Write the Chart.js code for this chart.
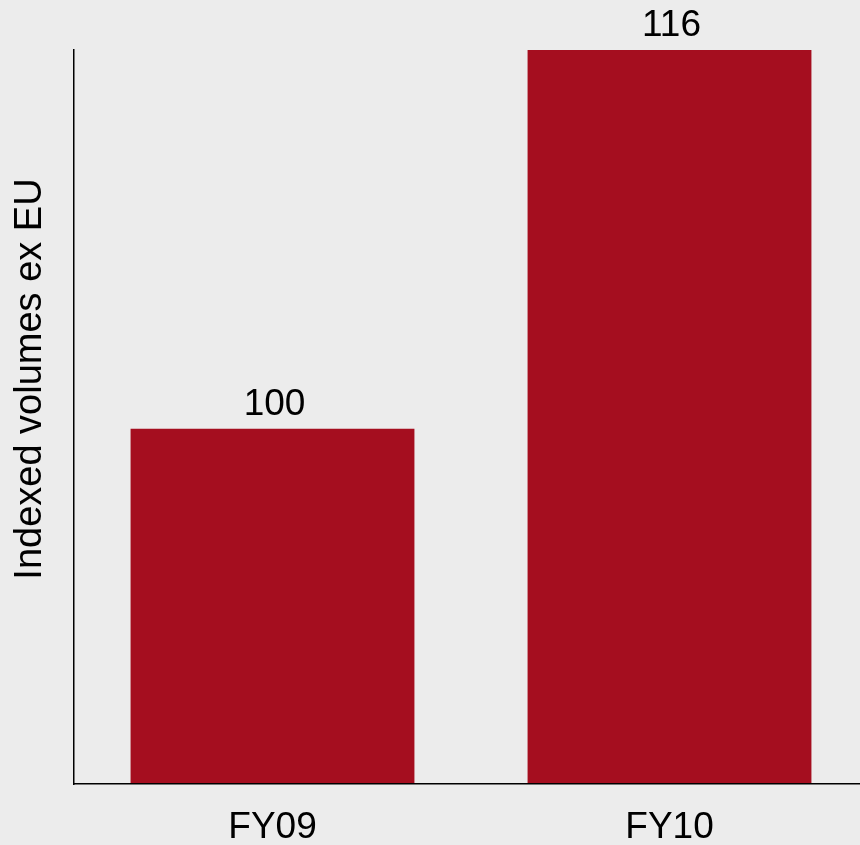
<!DOCTYPE html>
<html>
<head>
<meta charset="utf-8">
<script src="https://cdn.jsdelivr.net/npm/chart.js@4/dist/chart.umd.min.js"></script>
<style>
html,body{margin:0;padding:0;background:#ececec;overflow:hidden;width:860px;height:845px;}
canvas{display:block;}
</style>
</head>
<body>
<canvas id="c" width="868" height="845"></canvas>
<script>
const categories = ["FY09", "FY10"];
const volumes = [100, 116];
const valueLabels = ["100", "116"];
const yTitle = "Indexed volumes ex EU";
const yMin = 85;
const yMax = 116;

const FONT = "'Liberation Sans', Arial, sans-serif";

const bgPlugin = {
  id: 'bg',
  beforeDraw(chart) {
    const ctx = chart.ctx;
    ctx.save();
    ctx.fillStyle = '#ececec';
    ctx.fillRect(0, 0, chart.width, chart.height);
    ctx.restore();
  }
};

const labelPlugin = {
  id: 'labels',
  afterDatasetsDraw(chart) {
    const ctx = chart.ctx;
    const meta = chart.getDatasetMeta(0);
    ctx.save();
    ctx.font = "37px " + FONT;
    ctx.fillStyle = '#000';
    ctx.textAlign = 'center';
    ctx.textBaseline = 'alphabetic';
    meta.data.forEach((bar, i) => {
      ctx.fillText(valueLabels[i], bar.x + 2, bar.y - 14);
    });
    ctx.restore();
  },
  afterDraw(chart) {
    const ctx = chart.ctx;
    ctx.save();
    ctx.font = "38px " + FONT;
    ctx.fillStyle = '#000';
    ctx.textAlign = 'center';
    ctx.textBaseline = 'alphabetic';
    ctx.translate(41, 379);
    ctx.rotate(-Math.PI / 2);
    ctx.fillText(yTitle, 0, 0);
    ctx.restore();
  }
};

new Chart(document.getElementById('c'), {
  type: 'bar',
  data: {
    labels: categories,
    datasets: [{
      data: volumes,
      backgroundColor: '#a50e1f',
      borderWidth: 0,
      barPercentage: 0.715,
      categoryPercentage: 1.0
    }]
  },
  options: {
    responsive: false,
    animation: false,
    devicePixelRatio: 1,
    layout: { padding: { left: 74, top: 50, right: 0, bottom: 0 } },
    plugins: { legend: { display: false }, tooltip: { enabled: false } },
    scales: {
      x: {
        grid: { display: false, drawTicks: false },
        border: { display: true, color: '#000', width: 1.5, z: 1 },
        ticks: { color: '#000', font: { family: FONT, size: 37 }, padding: 22 },
        afterFit(scale) { scale.height = 61; }
      },
      y: {
        min: yMin,
        max: yMax,
        grid: { display: false, drawTicks: false },
        border: { display: true, color: '#000', width: 1.5, z: 1 },
        ticks: { display: false },
        afterFit(scale) { scale.width = 0; }
      }
    }
  },
  plugins: [bgPlugin, labelPlugin]
});
</script>
</body>
</html>
